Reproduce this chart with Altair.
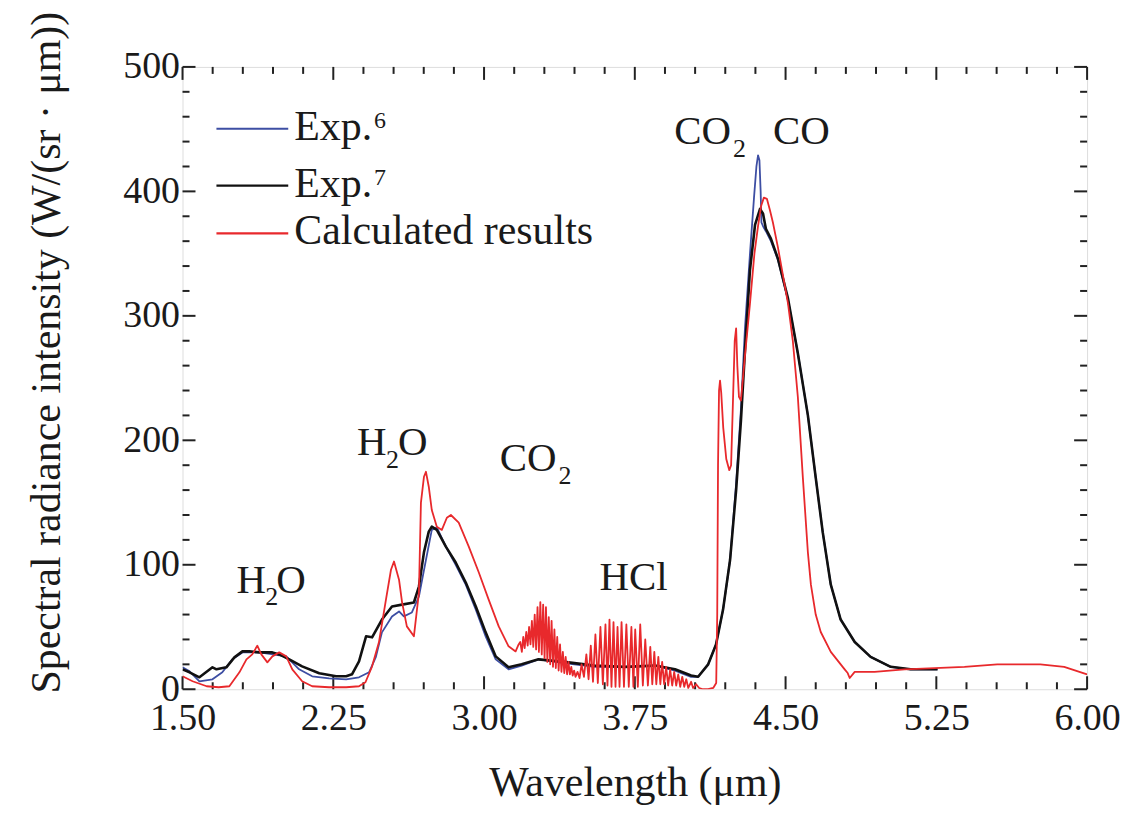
import altair as alt
import pandas as pd

# ---------------- data (wavelength um, intensity W/(sr*um)) ----------------
exp6 = [(1.50,17.6),(1.535,14.4),(1.584,6.4),(1.649,8),(1.698,13.6),(1.748,24),(1.798,29.6),
        (1.882,29.6),(1.95,28),(2.016,26.4),(2.080,16),(2.145,10.4),(2.229,8.8),(2.314,8),
        (2.378,9.6),(2.428,13.6),(2.462,26),(2.492,45.7),(2.542,58.5),(2.577,62.5),(2.601,58.5),
        (2.641,61.7),(2.676,74.5),(2.711,104),(2.740,128),(2.765,130),(2.810,114.6),(2.859,100),
        (2.909,84),(2.959,64),(3.008,42.5),(3.058,24),(3.122,16),(3.187,19),(3.271,24),(3.40,21),
        (3.55,18),(3.70,18),(3.85,19),(3.95,15),(4.03,10),(4.065,10),(4.115,20),(4.154,36),
        (4.189,64),(4.224,104),(4.254,165),(4.278,225),(4.298,290),(4.323,350),(4.343,395),
        (4.355,420),(4.363,429),(4.370,425),(4.376,400),(4.380,375),(4.388,372),(4.402,368),
        (4.427,360),(4.462,345),(4.512,313),(4.561,270),(4.611,220),(4.650,170),(4.685,126),
        (4.725,84),(4.774,56),(4.844,38),(4.923,26),(5.023,18),(5.122,16),(5.256,16)]

exp7 = [(1.50,16),(1.535,13.6),(1.584,9.6),(1.649,17.6),(1.669,16),(1.718,17.6),(1.758,25.6),
        (1.798,30.4),(1.832,30.4),(1.882,29.6),(1.947,29.6),(1.981,28),(2.031,24),(2.095,18.4),
        (2.180,12.8),(2.264,10.4),(2.314,10.4),(2.343,12),(2.378,22.4),(2.413,42.5),(2.443,41.7),
        (2.492,56),(2.542,66.5),(2.592,68),(2.651,69.7),(2.676,82.5),(2.701,110),(2.725,126.6),
        (2.740,130.6),(2.765,128),(2.810,114.6),(2.859,101.8),(2.909,85.7),(2.959,66.5),
        (3.008,45.7),(3.058,26.4),(3.122,17.6),(3.187,20),(3.271,24),(3.40,22),(3.55,19),
        (3.70,18),(3.85,19),(3.95,16),(4.03,11),(4.065,10),(4.115,20),(4.154,36),(4.189,64),
        (4.224,104),(4.254,160),(4.278,216),(4.298,272),(4.323,337),(4.348,373),(4.373,386),
        (4.388,382),(4.402,370),(4.427,362),(4.462,346),(4.512,314),(4.561,270),(4.611,220),
        (4.650,170),(4.685,126),(4.725,84),(4.774,56),(4.844,38),(4.923,26),(5.023,18),
        (5.122,16),(5.256,16)]

calc = [(1.50,10.4),(1.55,6.4),(1.62,2.4),(1.68,1.6),(1.733,2.4),(1.783,13.6),(1.818,24),
        (1.847,28),(1.872,35),(1.892,28),(1.922,21.6),(1.947,26.4),(1.981,29.6),(2.016,26.4),
        (2.046,16),(2.095,6.4),(2.145,2.4),(2.229,1.6),(2.314,1.6),(2.378,2.4),(2.410,5.6),
        (2.443,18.4),(2.477,37.7),(2.512,72),(2.537,96),(2.552,102.6),(2.577,88),(2.592,70),
        (2.616,50.5),(2.651,42.5),(2.676,77.7),(2.686,150),(2.701,170.7),(2.711,174.7),
        (2.725,162.7),(2.740,144),(2.765,130.6),(2.790,128),(2.815,137.8),(2.835,140),
        (2.874,133.8),(2.924,114.6),(2.974,93.8),(3.023,72),(3.073,50.5),(3.122,34.5),
        (3.157,30.4),(3.172,36),
        # CO2 band lines
        (3.180,38),(3.188,30),(3.195,42),(3.202,33),(3.210,46),(3.217,35),(3.224,50),(3.231,36),
        (3.238,55),(3.245,34),(3.252,60),(3.259,32),(3.266,66),(3.273,30),(3.280,70),(3.287,28),
        (3.294,68),(3.301,25),(3.308,66),(3.315,22),(3.322,58),(3.329,20),(3.336,55),(3.343,18),
        (3.350,48),(3.357,17),(3.364,42),(3.371,15),(3.378,36),(3.385,14),(3.392,30),(3.399,13),
        (3.406,26),(3.413,12),(3.420,22),(3.427,12),(3.434,18),(3.441,11),(3.448,15),(3.455,10),
        (3.465,14),(3.475,9),
        # HCl band lines
        (3.485,20),(3.497,10),(3.509,28),(3.520,8),(3.531,35),(3.542,6),(3.554,44),(3.566,5),
        (3.579,50),(3.591,4),(3.604,52),(3.614,3),(3.624,56),(3.634,2),(3.644,54),(3.654,2),
        (3.664,50),(3.674,2),(3.684,54),(3.696,2),(3.708,52),(3.720,2),(3.733,50),(3.743,2),
        (3.752,48),(3.765,2),(3.777,52),(3.790,3),(3.802,40),(3.815,3),(3.827,34),(3.837,4),
        (3.847,30),(3.857,4),(3.867,26),(3.877,4),(3.886,22),(3.896,4),(3.906,18),(3.916,3),
        (3.926,16),(3.936,3),(3.946,14),(3.956,3),(3.966,12),(3.976,2),(3.986,10),(3.996,2),
        (4.006,8),(4.016,1),(4.030,6),(4.040,1),(4.055,4),(4.070,1),(4.090,0),(4.115,0),
        (4.140,1),(4.155,5),
        # CO2 / CO band
        (4.160,60),(4.164,180),(4.169,240),(4.174,248),(4.180,238),(4.190,210),(4.205,185),
        (4.220,176),(4.229,180),(4.238,230),(4.247,280),(4.254,290),(4.260,260),(4.268,235),
        (4.278,232),(4.298,268),(4.323,310),(4.345,350),(4.363,372),(4.378,388),(4.392,395),
        (4.407,394),(4.422,385),(4.437,375),(4.462,355),(4.512,310),(4.536,280),(4.561,235),
        (4.586,170),(4.611,110),(4.626,84),(4.650,60),(4.675,46),(4.725,30),(4.794,16),
        (4.809,13),(4.819,9),(4.844,14),(4.943,14),(5.092,16),(5.390,18),(5.553,20),(5.767,20),
        (5.886,18),(6.000,12)]

x_major = [1.50, 2.25, 3.00, 3.75, 4.50, 5.25, 6.00]
x_minor = [1.65, 1.80, 1.95, 2.10, 2.40, 2.55, 2.70, 2.85, 3.15, 3.30, 3.45, 3.60,
           3.90, 4.05, 4.20, 4.35, 4.65, 4.80, 4.95, 5.10, 5.40, 5.55, 5.70, 5.85]
y_major = [0, 100, 200, 300, 400, 500]
y_minor = [20, 40, 60, 80, 120, 140, 160, 180, 220, 240, 260, 280,
           320, 340, 360, 380, 420, 440, 460, 480]

ann_main_text = ["H", "O", "H", "O", "CO", "HCl", "CO", "CO"]
ann_main_w = [1.768, 1.966, 2.368, 2.572, 3.078, 3.574, 3.946, 4.437]
ann_main_v = [77.7, 77.7, 188, 188, 175, 80, 438, 438]
ann_sub_text = ["2", "2", "2", "2"]
ann_sub_w = [1.912, 2.512, 3.370, 4.239]
ann_sub_v = [68, 178, 165, 428]

legend_labels = ["Exp.", "Exp.", "Calculated results"]
legend_sups = ["6", "7", ""]
legend_colors = ["#3d4ea3", "#111111", "#e8292c"]

# ---------------- chart ----------------
W, H = 907, 624
FONT = "Times New Roman, Liberation Serif, serif"
TXT = "#1a1a1a"

def df(pairs):
    return pd.DataFrame(pairs, columns=["w", "v"])

xs = alt.Scale(domain=[1.5, 6.0], nice=False, zero=False)
ys = alt.Scale(domain=[0, 500], nice=False, zero=False)

x_axis = alt.Axis(values=x_major, format=".2f", title="Wavelength (μm)",
                  labelFont=FONT, labelFontSize=38, labelColor=TXT, labelPadding=10,
                  labelFlush=False, labelOverlap=False,
                  ticks=False, domain=False, grid=False,
                  titleFont=FONT, titleFontSize=42, titleFontWeight="normal", titleColor=TXT,
                  titleY=107, titleBaseline="alphabetic")
y_axis = alt.Axis(values=y_major, format="d",
                  title="Spectral radiance intensity (W/(sr · μm))",
                  labelFont=FONT, labelFontSize=38, labelColor=TXT, labelPadding=3,
                  labelFlush=False, labelOverlap=False,
                  ticks=False, domain=False, grid=False,
                  titleFont=FONT, titleFontSize=42, titleFontWeight="normal", titleColor=TXT,
                  titleAngle=270, titleX=-136, titleY=286, titleAlign="center",
                  titleBaseline="middle")

X = alt.X("w:Q", scale=xs, axis=x_axis)
Y = alt.Y("v:Q", scale=ys, axis=y_axis)

def line(pairs, color, width):
    return alt.Chart(df(pairs)).mark_line(color=color, strokeWidth=width,
                                          strokeJoin="round", clip=True).encode(x=X, y=Y)

blue = line(exp6, legend_colors[0], 1.8)
black = line(exp7, legend_colors[1], 2.6)
red = line(calc, legend_colors[2], 1.8)

tick_color = "#222"
def xticks(vals, length):
    d = pd.DataFrame({"w": vals})
    b = alt.Chart(d).mark_rule(color=tick_color, strokeWidth=2).encode(
        x=X, y=alt.value(H), y2=alt.value(H - length))
    t = alt.Chart(d).mark_rule(color=tick_color, strokeWidth=2).encode(
        x=X, y=alt.value(0), y2=alt.value(length))
    return b + t

def yticks(vals, length):
    d = pd.DataFrame({"v": vals})
    l = alt.Chart(d).mark_rule(color=tick_color, strokeWidth=2).encode(
        y=Y, x=alt.value(0), x2=alt.value(length))
    r = alt.Chart(d).mark_rule(color=tick_color, strokeWidth=2).encode(
        y=Y, x=alt.value(W), x2=alt.value(W - length))
    return l + r

ticks = xticks(x_major, 13) + xticks(x_minor, 7) + yticks(y_major, 13) + yticks(y_minor, 7)

ann_main = alt.Chart(pd.DataFrame({"w": ann_main_w, "v": ann_main_v, "t": ann_main_text})).mark_text(
    font=FONT, fontSize=41, color=TXT, align="left", baseline="alphabetic").encode(x=X, y=Y, text="t:N")
ann_sub = alt.Chart(pd.DataFrame({"w": ann_sub_w, "v": ann_sub_v, "t": ann_sub_text})).mark_text(
    font=FONT, fontSize=26, color=TXT, align="left", baseline="alphabetic").encode(x=X, y=Y, text="t:N")

# manual legend (pixel positions inside the plot area)
leg_y = [62, 119, 167]
legend_layers = []
blank = alt.Data(values=[{}])
for lab, sup, col, ly in zip(legend_labels, legend_sups, legend_colors, leg_y):
    legend_layers.append(alt.Chart(blank).mark_rule(color=col, strokeWidth=2.2).encode(
        x=alt.value(34), x2=alt.value(106), y=alt.value(ly)))
    legend_layers.append(alt.Chart(blank).mark_text(
        text=lab, font=FONT, fontSize=42, color=TXT, align="left", baseline="alphabetic").encode(
        x=alt.value(112), y=alt.value(ly + 11)))
    if sup:
        legend_layers.append(alt.Chart(blank).mark_text(
            text=sup, font=FONT, fontSize=24, color=TXT, align="left", baseline="alphabetic").encode(
            x=alt.value(192), y=alt.value(ly - 1)))

chart = alt.layer(ticks, blue, black, red, ann_main, ann_sub, *legend_layers).properties(
    width=W, height=H,
    padding={"left": 175, "top": 58, "right": 34, "bottom": 115},
    autosize=alt.AutoSizeParams(type="none"),
).configure_view(stroke="#222", strokeWidth=2).configure(background="white", font=FONT)

chart.save("out.html", embed_options={"renderer": "svg", "actions": False})
